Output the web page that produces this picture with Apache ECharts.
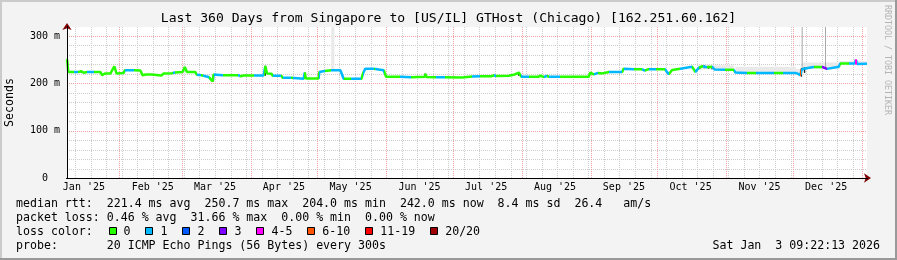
<!DOCTYPE html>
<html><head><meta charset="utf-8">
<script src="https://cdn.jsdelivr.net/npm/echarts@6/dist/echarts.min.js"></script>
<style>html,body{margin:0;padding:0;background:#f3f3f3}#c{width:897px;height:260px}</style>
</head><body><div id="c"></div><script>
// ---------------- data ----------------
const titleText = 'Last 360 Days from Singapore to [US/IL] GTHost (Chicago) [162.251.60.162]';
const yAxisName = 'Seconds';
const yTickValues = [0, 100, 200, 300];
const yTickLabels = ['0  ', '100 m', '200 m', '300 m'];
const monthLabels = ["Jan '25","Feb '25","Mar '25","Apr '25","May '25","Jun '25","Jul '25","Aug '25","Sep '25","Oct '25","Nov '25","Dec '25"];

// day offsets since start of window (Jan 8 2025 09:22:13)
const days = [
  0, 0.6, 3, 5, 6.5, 7.5, 9, 12, 15, 15.8,
  17, 19.5, 20.3, 21.3, 22.3, 25.5, 26, 30, 33, 34,
  35.5, 38.2, 38.7, 42.5, 43.5, 47.5, 48.5, 52, 53, 54,
  57.7, 58.5, 60.5, 61, 63.7, 65.5, 66, 70, 77, 78,
  79.5, 84, 88.5, 89.25, 90, 92, 92.5, 96.5, 97, 101,
  101.5, 106.5, 107, 107.5, 113.2, 113.6, 116, 119, 123, 124.5,
  128, 132.5, 133.2, 134.2, 138, 138.5, 142.5, 143.6, 150, 155,
  161, 161.3, 161.8, 166, 170, 177.8, 182.3, 186, 191, 192,
  193, 198.8, 201, 203.3, 204.5, 208, 212, 213, 214.5, 216,
  217, 222, 228, 234.8, 235.5, 237, 239, 240.8, 244, 249.8,
  250.5, 255, 258.8, 260, 261.8, 265, 269, 270.8, 272.3, 276,
  281.3, 282.8, 284.3, 286, 288, 290.3, 291.5, 296, 300, 300.8,
  306, 310, 318, 322, 327.8, 329, 330, 330.5, 331.5, 332.3,
  336, 339.8, 340.5, 342, 342.8, 347.3, 348, 352, 354.5, 355,
  355.5, 360
];
// median rtt in ms
const medianMs = [
  251, 224, 224, 224, 225.5, 222.5, 224, 224, 224, 217.5,
  220.7, 220.7, 224, 236, 221, 222, 227.7, 227.7, 227, 217,
  218.6, 218.6, 216.6, 216.6, 220.7, 221.5, 223, 224, 234.7, 224,
  224, 218, 217, 214, 213.5, 204, 218.6, 217.3, 217.3, 215,
  216.6, 216.6, 216.6, 236.8, 221, 220.5, 216, 216, 211.7, 211.7,
  209.8, 209.8, 223, 210.3, 210.3, 224, 226, 227.7, 227.7, 209.6,
  209.6, 209.6, 220.7, 231, 231, 227.7, 227.7, 213.8, 213.8, 213,
  213.8, 220, 213.5, 213, 213, 212.5, 214.5, 215, 215, 217,
  215.5, 216, 218, 222.8, 213.8, 213.8, 213.8, 216, 213.5, 215.5,
  213.8, 213.8, 213.8, 213.8, 222.8, 219, 222, 221, 224, 224,
  231, 230, 229.5, 227, 230, 230, 230, 219, 228, 231,
  235, 224, 233, 236, 234, 235, 229, 228.5, 228.5, 222.8,
  222, 222, 222, 222, 222, 220, 217, 228, 231, 233,
  234.7, 234.7, 231, 230.5, 234.7, 235, 241.7, 241.7, 241.7, 250,
  241, 241.5
];
// loss bin index (0:"0",1:"1",2:"2",3:"3",4:"4-5",5:"6-10",6:"11-19",7:"20/20")
const lossBin = [
  2, 0, 1, 0, 0, 0, 1, 0, 0, 0,
  0, 0, 0, 0, 0, 0, 1, 0, 0, 0,
  0, 0, 0, 0, 0, 1, 0, 0, 0, 0,
  0, 1, 0, 1, 0, 0, 1, 0, 1, 0,
  0, 1, 0, 0, 0, 0, 1, 0, 1, 0,
  1, 0, 0, 0, 0, 1, 0, 1, 1, 0,
  1, 0, 1, 1, 0, 1, 0, 0, 1, 0,
  0, 0, 0, 1, 0, 0, 1, 0, 0, 1,
  0, 0, 0, 0, 1, 0, 0, 0, 1, 0,
  1, 0, 0, 0, 0, 1, 0, 0, 1, 0,
  1, 0, 1, 0, 1, 0, 1, 0, 0, 1,
  0, 1, 0, 1, 0, 1, 1, 0, 1, 1,
  0, 1, 0, 1, 1, 1, 5, 1, 1, 1,
  0, 3, 3, 1, 1, 1, 0, 1, 4, 4,
  1, 1
];
// smoke (ping spread) blocks: [fromDay, toDay, lowMs, highMs]
const lightSmoke = [
  [118.9, 120.3, 226, 400],
  [284, 300, 229, 238],
  [300.8, 328, 223, 235],
  [328, 330.3, 218, 230],
  [331, 347.5, 230, 244],
  [347.5, 354, 240, 247],
  [355.5, 360, 240, 247]
];
const midSmoke = [
  [330.6, 331.0, 228, 400],
  [341.1, 341.5, 232, 400]
];
const darkSmoke = [
  [6.2, 6.8, 222, 227],
  [65.6, 66.2, 204, 219],
  [89.0, 89.5, 216, 237],
  [106.8, 107.3, 210, 223],
  [113.2, 113.7, 210, 224],
  [160.9, 161.4, 213, 221],
  [203.0, 203.6, 216, 224],
  [284.5, 285, 230, 236],
  [286.5, 287, 232, 238],
  [288.5, 289, 231, 237],
  [290, 290.5, 230, 236],
  [330.2, 330.8, 214, 232],
  [331.6, 332.2, 222, 234]
];
const statsLines = [
  "median rtt:  221.4 ms avg  250.7 ms max  204.0 ms min  242.0 ms now  8.4 ms sd  26.4   am/s",
  "packet loss: 0.46 % avg  31.66 % max  0.00 % min  0.00 % now"
];
const lossTitle = 'loss color:';
const lossLegendLabels = ['0', '1', '2', '3', '4-5', '6-10', '11-19', '20/20'];
const probeText = 'probe:       20 ICMP Echo Pings (56 Bytes) every 300s';
const dateText = 'Sat Jan  3 09:22:13 2026';
const creditText = 'RRDTOOL / TOBI OETIKER';

// ---------------- styles & helpers ----------------
const lossColors = ['#26ff00','#00b8ff','#0059ff','#7e00ff','#ff00ff','#ff5500','#ff0000','#a10000'];
const MONO = '"DejaVu Sans Mono", monospace';
const t0 = Date.UTC(2025, 0, 8, 9, 22, 13);
const SPAN = 360;
const dayOf = (y, m, d) => (Date.UTC(y, m, d) - t0) / 864e5;
const monthStarts = [];
for (let m = 1; m <= 12; m++) monthStarts.push(dayOf(2025, m, 1));
const midMonths = [];
for (let m = 0; m < 12; m++) midMonths.push(dayOf(2025, m, 16));
const sundays = [];
for (let d = dayOf(2025, 0, 12); d < SPAN; d += 7) sundays.push(d);
const hMinor = [], hMajor = [100, 200, 300];
for (let v = 20; v < 320; v += 20) if (v % 100) hMinor.push(v);

function gridSeries(vals, vertical, color) {
  return {
    type: 'custom', silent: true, z: 1, clip: false,
    data: vals.map(v => vertical ? [v, 0] : [0, v]),
    renderItem(params, api) {
      const cs = params.coordSys;
      let shape;
      if (vertical) {
        const x = Math.round(api.coord([api.value(0), 0])[0]) + 0.5;
        shape = { x1: x, y1: cs.y, x2: x, y2: cs.y + cs.height };
      } else {
        const y = Math.round(api.coord([0, api.value(1)])[1]) + 0.5;
        shape = { x1: cs.x, y1: y, x2: cs.x + cs.width, y2: y };
      }
      return { type: 'line', shape, style: { stroke: color, lineWidth: 1, lineDash: [1, 1] } };
    }
  };
}
function smokeSeries(rows, color) {
  return {
    type: 'custom', silent: true, z: 3,
    data: rows,
    encode: { x: [0, 1], y: [2, 3] },
    renderItem(params, api) {
      const cs = params.coordSys;
      const p0 = api.coord([api.value(0), api.value(3)]);
      const p1 = api.coord([api.value(1), api.value(2)]);
      const r = echarts.graphic.clipRectByRect(
        { x: p0[0], y: p0[1], width: Math.max(1, p1[0] - p0[0]), height: p1[1] - p0[1] },
        { x: cs.x, y: cs.y, width: cs.width, height: cs.height });
      return r ? { type: 'rect', shape: r, style: { fill: color } } : null;
    }
  };
}
function axisLineSeries(vertical) {
  return {
    type: 'custom', silent: true, z: 6, clip: false,
    data: [[0, 0]],
    renderItem(params, api) {
      const cs = params.coordSys;
      const o = api.coord([0, 0]);
      const shape = vertical
        ? { x1: Math.round(o[0]) + 0.5, y1: cs.y - 1, x2: Math.round(o[0]) + 0.5, y2: cs.y + cs.height + 1 }
        : { x1: cs.x - 1, y1: Math.round(o[1]) + 0.5, x2: cs.x + cs.width + 1, y2: Math.round(o[1]) + 0.5 };
      return { type: 'line', shape, style: { stroke: '#000', lineWidth: 1 } };
    }
  };
}

// visual map pieces along x from loss bins
const pieces = [];
for (let i = 0; i < days.length - 1; i++) {
  const c = lossColors[lossBin[i]];
  const last = pieces[pieces.length - 1];
  if (last && last.color === c) last.lt = days[i + 1];
  else pieces.push({ gte: days[i], lt: days[i + 1], color: c });
}
pieces[pieces.length - 1].lte = SPAN + 1; delete pieces[pieces.length - 1].lt;

const series = [
  gridSeries(sundays, true, '#cdcdcd'),
  gridSeries(hMinor, false, '#cdcdcd'),
  gridSeries(monthStarts, true, '#f4a3a3'),
  gridSeries(hMajor, false, '#f4a3a3'),
  smokeSeries(lightSmoke, '#e9e9e9'),
  smokeSeries(midSmoke, '#a8a8a8'),
  smokeSeries(darkSmoke, '#1a1a1a'),
  {
    type: 'line', z: 5, symbol: 'none', silent: true, animation: false,
    data: days.map((d, i) => [d, medianMs[i]]),
    lineStyle: { width: 2.5 }
  },
  axisLineSeries(false),
  axisLineSeries(true)
];

// graphic texts
const graphics = [
  { type: 'rect', shape: { x: 0, y: 0, width: 897, height: 2 }, style: { fill: '#cbcbcb' }, silent: true },
  { type: 'rect', shape: { x: 0, y: 0, width: 2, height: 260 }, style: { fill: '#cbcbcb' }, silent: true },
  { type: 'rect', shape: { x: 0, y: 258, width: 897, height: 2 }, style: { fill: '#999999' }, silent: true },
  { type: 'rect', shape: { x: 895, y: 0, width: 2, height: 260 }, style: { fill: '#999999' }, silent: true },
  { type: 'text', x: 448.5, y: 19, style: { text: titleText, font: '13.1px ' + MONO, fill: '#000', textAlign: 'center', textVerticalAlign: 'middle' } },
  { type: 'text', x: 10, y: 102.5, rotation: Math.PI / 2, style: { text: yAxisName, font: '11.6px ' + MONO, fill: '#000', textAlign: 'center', textVerticalAlign: 'middle' } },
  { type: 'text', x: 887, y: 5, rotation: -Math.PI / 2, style: { text: creditText, font: '8.3px ' + MONO, fill: '#b4b4b4', textAlign: 'left', textVerticalAlign: 'middle' } },
  { type: 'text', x: 16, y: 204, style: { text: statsLines[0], font: '11.6px ' + MONO, fill: '#000', textAlign: 'left', textVerticalAlign: 'middle' } },
  { type: 'text', x: 16, y: 218.3, style: { text: statsLines[1], font: '11.6px ' + MONO, fill: '#000', textAlign: 'left', textVerticalAlign: 'middle' } },
  { type: 'text', x: 16, y: 231.7, style: { text: lossTitle, font: '11.6px ' + MONO, fill: '#000', textAlign: 'left', textVerticalAlign: 'middle' } },
  { type: 'text', x: 16, y: 246, style: { text: probeText, font: '11.6px ' + MONO, fill: '#000', textAlign: 'left', textVerticalAlign: 'middle' } },
  { type: 'text', x: 880, y: 246, style: { text: dateText, font: '11.6px ' + MONO, fill: '#000', textAlign: 'right', textVerticalAlign: 'middle' } }
];
const CW = 6.98;
let bx = 108.5;
lossLegendLabels.forEach((lab, i) => {
  graphics.push({ type: 'rect', shape: { x: Math.round(bx) + 0.5, y: 227.5, width: 7, height: 7 }, style: { fill: lossColors[i], stroke: '#000', lineWidth: 1 }, silent: true });
  graphics.push({ type: 'text', x: bx + 15, y: 231.7, style: { text: lab, font: '11.6px ' + MONO, fill: '#000', textAlign: 'left', textVerticalAlign: 'middle' } });
  bx = bx + 15 + lab.length * CW + 15;
});

const chart = echarts.init(document.getElementById('c'), null, { renderer: 'canvas' });
chart.setOption({
  animation: false,
  backgroundColor: '#f3f3f3',
  grid: { left: 67, top: 27, width: 800, height: 151, show: true, backgroundColor: '#ffffff', borderWidth: 0 },
  xAxis: {
    type: 'value', min: 0, max: SPAN,
    splitLine: { show: false },
    axisTick: { show: false },
    axisLine: { show: true, lineStyle: { color: '#7f0000', width: 1 }, symbol: ['none', 'arrow'], symbolSize: [7, 7], symbolOffset: [0, 4] },
    axisLabel: {
      customValues: midMonths,
      formatter: v => { const i = midMonths.findIndex(m => Math.abs(m - v) < 1e-6); return i >= 0 ? monthLabels[i] : ''; },
      fontFamily: MONO, fontSize: 10, color: '#000', margin: 4
    }
  },
  yAxis: {
    type: 'value', min: 0, max: 319,
    splitLine: { show: false },
    axisTick: { show: false },
    axisLine: { show: true, lineStyle: { color: '#7f0000', width: 1 }, symbol: ['none', 'arrow'], symbolSize: [7, 7], symbolOffset: [0, 4] },
    axisLabel: {
      customValues: yTickValues,
      formatter: v => { const i = yTickValues.indexOf(v); return i >= 0 ? yTickLabels[i] : ''; },
      fontFamily: MONO, fontSize: 10, color: '#000', margin: 7
    }
  },
  visualMap: { show: false, type: 'piecewise', dimension: 0, seriesIndex: 7, pieces, outOfRange: { color: lossColors[0] } },
  series,
  graphic: graphics
});
</script></body></html>
